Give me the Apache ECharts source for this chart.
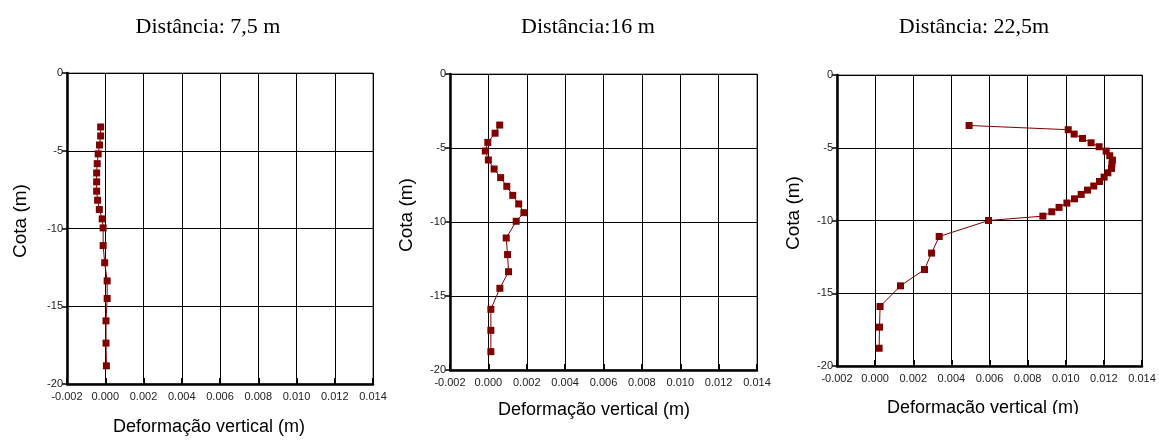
<!DOCTYPE html>
<html>
<head>
<meta charset="utf-8">
<script src="https://cdn.jsdelivr.net/npm/echarts@6/dist/echarts.min.js"></script>
<style>
  html, body { margin: 0; padding: 0; background: #fff; }
  #chart { width: 1159px; height: 440px; }
</style>
</head>
<body>
<div id="chart"></div>
<script>
// titulos e eixos
const titles = ['Distância: 7,5 m', 'Distância:16 m', 'Distância: 22,5m']
const xName = 'Deformação vertical (m)'
const yName = 'Cota (m)'
const xMin = -0.002, xMax = 0.014, xStep = 0.002
const yMin = -20, yMax = 0, yStep = 5

// Distância 7,5 m
const depth75 = [-3.47, -4.05, -4.63, -5.2, -5.83, -6.43, -7.0, -7.6, -8.18, -8.78, -9.38, -9.96, -11.1, -12.2, -13.37, -14.5, -15.94, -17.37, -18.83]
const def75 = [-0.00024, -0.00024, -0.0003, -0.00037, -0.00042, -0.00045, -0.00045, -0.00045, -0.0004, -0.00031, -0.00016, -0.00011, -0.00011, -0.00003, 0.0001, 0.0001, 0.00004, 0.00004, 0.00006]

// Distância 16 m
const depth16 = [-3.45, -4.0, -4.62, -5.2, -5.81, -6.42, -7.0, -7.59, -8.2, -8.78, -9.37, -9.95, -11.08, -12.2, -13.36, -14.48, -15.9, -17.32, -18.76]
const def16 = [0.00059, 0.00035, -0.00003, -0.00016, 0.0, 0.0003, 0.00064, 0.00096, 0.00127, 0.00158, 0.00185, 0.00145, 0.00093, 0.001, 0.00105, 0.0006, 0.00013, 0.00013, 0.00013]

// Distância 22,5 m
const depth225 = [-3.47, -3.76, -4.06, -4.36, -4.66, -4.93, -5.23, -5.55, -5.85, -6.12, -6.42, -6.72, -7.02, -7.32, -7.63, -7.91, -8.21, -8.51, -8.8, -9.1, -9.4, -9.7, -10.0, -11.1, -12.24, -13.37, -14.49, -15.91, -17.33, -18.78]
const def225 = [0.00493, 0.01013, 0.01044, 0.01088, 0.01133, 0.01175, 0.01212, 0.01231, 0.01245, 0.01242, 0.0124, 0.01221, 0.01201, 0.01177, 0.01147, 0.01114, 0.01081, 0.01046, 0.01006, 0.00965, 0.00927, 0.0088, 0.00595, 0.00336, 0.00296, 0.00259, 0.00133, 0.00026, 0.00023, 0.00021]

const SANS = "'Liberation Sans', Arial, sans-serif"
const NARROW = "'Liberation Sans Narrow', 'Liberation Sans', Arial, sans-serif"
const SERIF = "'Liberation Serif', 'Times New Roman', serif"
const RED = '#800000'

// posicao de cada painel
const panels = [
  { grid: { left: 67, top: 73, width: 306, height: 311 }, title: [203, 11], xn: [209, 427], yn: [21, 221] },
  { grid: { left: 450, top: 74, width: 307, height: 296 }, title: [583, 11], xn: [594, 410], yn: [407, 215] },
  { grid: { left: 837, top: 75, width: 305, height: 291 }, title: [969, 11], xn: [983, 408], yn: [794, 213] },
]
const seriesData = [
  def75.map((d, i) => [d, depth75[i]]),
  def16.map((d, i) => [d, depth16[i]]),
  def225.map((d, i) => [d, depth225[i]]),
]

const chart = echarts.init(document.getElementById('chart'), null, { renderer: 'canvas' })

const option = {
  animation: false,
  backgroundColor: '#fff',
  title: panels.map((p, i) => ({
    text: titles[i], left: p.title[0], top: p.title[1], textAlign: 'center',
    textStyle: { fontFamily: SERIF, fontSize: 22, fontWeight: 'normal', color: '#000' },
  })),
  grid: panels.map((p) => Object.assign({
    show: true, borderColor: '#555', borderWidth: 1, backgroundColor: '#fff',
    containLabel: false, outerBoundsMode: 'none',
  }, p.grid)),
  xAxis: panels.map((p, i) => ({
    type: 'value', gridIndex: i, min: xMin, max: xMax, interval: xStep,
    axisLine: { show: true, onZero: false, lineStyle: { color: '#000', width: 2.5 } },
    axisTick: { show: true, inside: true, length: 6, lineStyle: { color: '#000', width: 2 } },
    axisLabel: {
      color: '#222', fontFamily: NARROW, fontSize: 11, margin: 7,
      formatter: (v) => v.toFixed(3),
    },
    splitLine: { show: true, lineStyle: { color: '#000', width: 1 } },
  })),
  yAxis: panels.map((p, i) => ({
    type: 'value', gridIndex: i, min: yMin, max: yMax, interval: yStep,
    axisLine: { show: true, onZero: false, lineStyle: { color: '#000', width: 2.5 } },
    axisTick: { show: true, length: 5, lineStyle: { color: '#000', width: 1.5 } },
    axisLabel: { color: '#222', fontFamily: NARROW, fontSize: 11, margin: 4 },
    splitLine: { show: true, lineStyle: { color: '#000', width: 1 } },
  })),
  series: seriesData.map((d, i) => ({
    type: 'line', xAxisIndex: i, yAxisIndex: i, data: d,
    symbol: 'rect', symbolSize: 7, showAllSymbol: true,
    lineStyle: { color: RED, width: 1 },
    itemStyle: { color: RED },
    z: 5,
  })),
  graphic: [
    ...panels.map((p) => ({
      type: 'text', x: p.xn[0], y: p.xn[1],
      style: { text: xName, font: '18px ' + SANS, fill: '#000', align: 'center', verticalAlign: 'middle' },
    })),
    ...panels.map((p) => ({
      type: 'text', x: p.yn[0], y: p.yn[1], rotation: Math.PI / 2,
      style: { text: yName, font: '19px ' + SANS, fill: '#000', align: 'center', verticalAlign: 'middle' },
    })),
    // o rotulo do 3o painel aparece cortado em baixo
    { type: 'rect', shape: { x: 880, y: 414, width: 210, height: 26 }, style: { fill: '#fff' }, z: 100 },
  ],
}

chart.setOption(option)
window.addEventListener('resize', () => chart.resize())
</script>
</body>
</html>
